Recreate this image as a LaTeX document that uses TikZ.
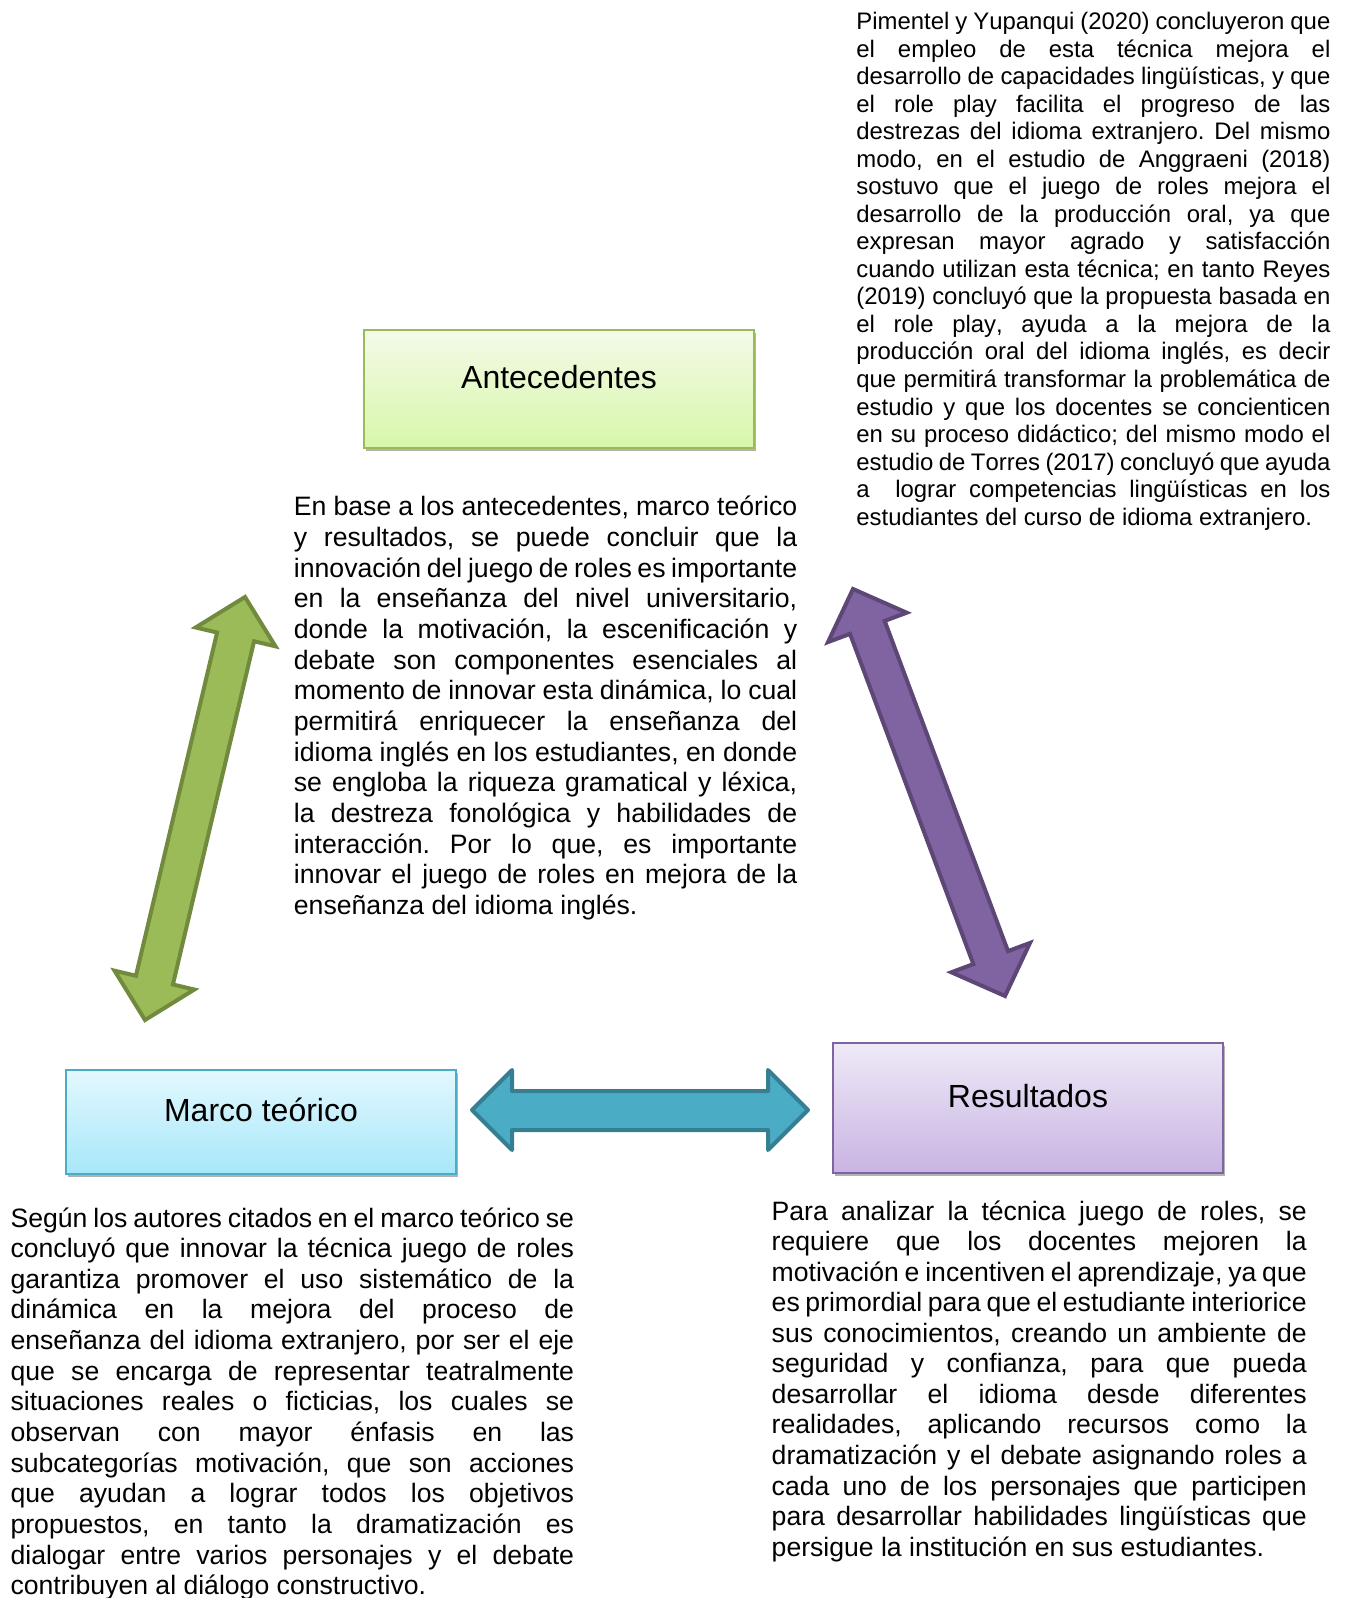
\documentclass[tikz,border=0pt]{standalone}
\usepackage{fontspec}
\setmainfont[Kerning=Off,Ligatures=NoCommon]{Liberation Sans}
\usetikzlibrary{shadows}
\definecolor{grnF}{HTML}{9BBB59}
\definecolor{grnD}{HTML}{718A3E}
\definecolor{purF}{HTML}{8064A2}
\definecolor{purD}{HTML}{5C4776}
\definecolor{tealF}{HTML}{4BACC6}
\definecolor{tealD}{HTML}{367F93}
\definecolor{anteT}{HTML}{F3FAE8}
\definecolor{anteB}{HTML}{D8F7A9}
\definecolor{marcT}{HTML}{E3F8FE}
\definecolor{marcB}{HTML}{A7E7FA}
\definecolor{resT}{HTML}{EFE9F7}
\definecolor{resB}{HTML}{C8B4E3}
\newcommand\JL[1]{\hbox to \hsize{#1}}
\newcommand\LL[1]{\hbox{#1}}
\frenchspacing
\begin{document}
\begin{tikzpicture}[x=0.5pt,y=-0.5pt,
  boxstyle/.style={line width=1pt, inner sep=0pt, minimum width=195pt,
    drop shadow={shadow xshift=1.2pt, shadow yshift=-1.6pt, fill=black, opacity=0.3}},
  lbl/.style={anchor=base, inner sep=0pt, font=\fontsize{16pt}{19pt}\selectfont},
  para/.style={anchor=base west, inner sep=0pt},
  grnA/.style={fill=grnF, draw=grnD, line width=2pt, line join=miter},
  purA/.style={fill=purF, draw=purD, line width=2pt, line join=miter},
  tealA/.style={fill=tealF, draw=tealD, line width=2pt, line join=round}]
\useasboundingbox (0,0) rectangle (1345,1598);
\clip (0,0) rectangle (1345,1598);

% boxes
\node[boxstyle, draw=grnF, top color=anteT, bottom color=anteB, minimum height=59pt] (ante) at (559,389) {};
\node[boxstyle, draw=tealF, top color=marcT, bottom color=marcB, minimum height=52pt] (marc) at (261,1122) {};
\node[boxstyle, draw=purF, top color=resT, bottom color=resB, minimum height=65pt] (res) at (1028,1108) {};

\node[lbl] (anteL) at (559,388.5) {Antecedentes};
\node[lbl] (marcL) at (261,1121) {Marco teórico};
\node[lbl] (resL) at (1028,1107) {Resultados};

% arrows
\draw[grnA] (245,597) -- (275.47,646.33) -- (254.06,641.27) -- (172.92,984.47) -- (194.33,989.53) -- (145,1020) -- (114.53,970.67) -- (135.94,975.73) -- (217.08,632.53) -- (195.67,627.47) -- cycle;
\draw[purA] (853,589) -- (906.68,612.71) -- (884.67,620.93) -- (1007.99,951.13) -- (1030.0,942.91) -- (1005,996) -- (951.32,972.29) -- (973.33,964.07) -- (850.01,633.87) -- (828.0,642.09) -- cycle;
\draw[tealA] (472,1110) -- (512,1070) -- (512,1091) -- (768,1091) -- (768,1070) -- (808,1110) -- (768,1150) -- (768,1130) -- (512,1130) -- (512,1150) -- cycle;

% top-right paragraph
\node[para] (ptr) at (856,29.5) {\fontsize{11.95pt}{13.79pt}\selectfont\vtop{\hsize=237pt \baselineskip=13.77pt \lineskiplimit=-100pt
\JL{Pimentel y Yupanqui (2020) concluyeron que}
\JL{el empleo de esta técnica mejora el}
\JL{desarrollo de capacidades lingüísticas, y que}
\JL{el role play facilita el progreso de las}
\JL{destrezas del idioma extranjero. Del mismo}
\JL{modo, en el estudio de Anggraeni (2018)}
\JL{sostuvo que el juego de roles mejora el}
\JL{desarrollo de la producción oral, ya que}
\JL{expresan mayor agrado y satisfacción}
\JL{cuando utilizan esta técnica; en tanto Reyes}
\JL{(2019) concluyó que la propuesta basada en}
\JL{el role play, ayuda a la mejora de la}
\JL{producción oral del idioma inglés, es decir}
\JL{que permitirá transformar la problemática de}
\JL{estudio y que los docentes se concienticen}
\JL{en su proceso didáctico; del mismo modo el}
\JL{estudio de Torres (2017) concluyó que ayuda}
\JL{a\ \ lograr competencias lingüísticas en los}
\LL{estudiantes del curso de idioma extranjero.}}};

% center paragraph
\node[para] (pc) at (293.5,516) {\fontsize{13.32pt}{15.32pt}\selectfont\vtop{\hsize=251.65pt \baselineskip=15.32pt \lineskiplimit=-100pt
\JL{En base a los antecedentes, marco teórico}
\JL{y resultados, se puede concluir que la}
\JL{innovación del juego de roles es importante}
\JL{en la enseñanza del nivel universitario,}
\JL{donde la motivación, la escenificación y}
\JL{debate son componentes esenciales al}
\JL{momento de innovar esta dinámica, lo cual}
\JL{permitirá enriquecer la enseñanza del}
\JL{idioma inglés en los estudiantes, en donde}
\JL{se engloba la riqueza gramatical y léxica,}
\JL{la destreza fonológica y habilidades de}
\JL{interacción. Por lo que, es importante}
\JL{innovar el juego de roles en mejora de la}
\LL{enseñanza del idioma inglés.}}};

% bottom-left paragraph
\node[para] (pbl) at (10.2,1227) {\fontsize{13.3pt}{15.33pt}\selectfont\vtop{\hsize=281.75pt \baselineskip=15.33pt \lineskiplimit=-100pt
\JL{Según los autores citados en el marco teórico se}
\JL{concluyó que innovar la técnica juego de roles}
\JL{garantiza promover el uso sistemático de la}
\JL{dinámica en la mejora del proceso de}
\JL{enseñanza del idioma extranjero, por ser el eje}
\JL{que se encarga de representar teatralmente}
\JL{situaciones reales o ficticias, los cuales se}
\JL{observan con mayor énfasis en las}
\JL{subcategorías motivación, que son acciones}
\JL{que ayudan a lograr todos los objetivos}
\JL{propuestos, en tanto la dramatización es}
\JL{dialogar entre varios personajes y el debate}
\LL{contribuyen al diálogo constructivo.}}};

% bottom-right paragraph
\node[para] (pbr) at (771.3,1220) {\fontsize{13.3pt}{15.28pt}\selectfont\vtop{\hsize=267.5pt \baselineskip=15.28pt \lineskiplimit=-100pt
\JL{Para analizar la técnica juego de roles, se}
\JL{requiere que los docentes mejoren la}
\JL{motivación e incentiven el aprendizaje, ya que}
\JL{es primordial para que el estudiante interiorice}
\JL{sus conocimientos, creando un ambiente de}
\JL{seguridad y confianza, para que pueda}
\JL{desarrollar el idioma desde diferentes}
\JL{realidades, aplicando recursos como la}
\JL{dramatización y el debate asignando roles a}
\JL{cada uno de los personajes que participen}
\JL{para desarrollar habilidades lingüísticas que}
\LL{persigue la institución en sus estudiantes.}}};
\end{tikzpicture}
\end{document}
